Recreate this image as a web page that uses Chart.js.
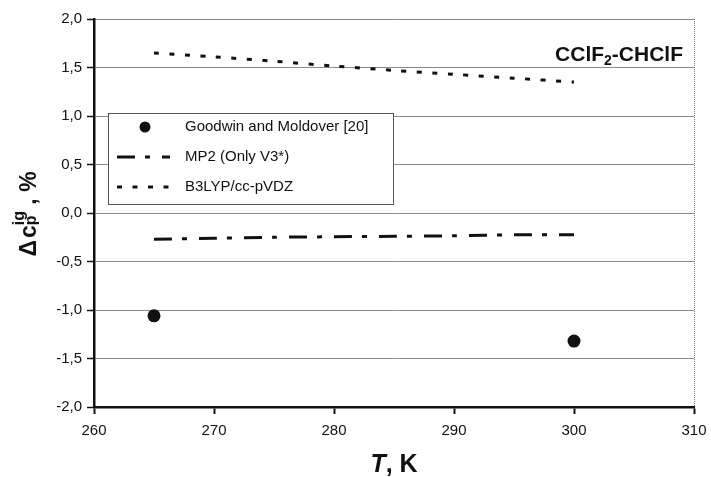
<!DOCTYPE html>
<html>
<head>
<meta charset="utf-8">
<script src="https://cdn.jsdelivr.net/npm/chart.js@4"></script>
<style>
  body { margin: 0; background: #fff; }
  #wrap { width: 711px; height: 477px; }
</style>
</head>
<body>
<div id="wrap"><canvas id="cpChart" width="711" height="477"></canvas></div>
<script>
  // Temperatures (K) and deviations of ideal-gas heat capacity (%)
  const calcTemps = [265, 270, 275, 280, 285, 290, 295, 300];
  const mp2Values = [-0.27, -0.26, -0.25, -0.245, -0.24, -0.235, -0.225, -0.225];
  const b3lypValues = [1.65, 1.61, 1.565, 1.515, 1.47, 1.43, 1.39, 1.35];
  const expTemps = [265, 300];
  const expValues = [-1.06, -1.32];

  const seriesLabels = ['Goodwin and Moldover [20]', 'MP2 (Only V3*)', 'B3LYP/cc-pVDZ'];
  const xTicks = [260, 270, 280, 290, 300, 310];
  const yTicks = [-2, -1.5, -1, -0.5, 0, 0.5, 1, 1.5, 2];

  const FONT = "'Liberation Sans', Arial, sans-serif";

  function toPoints(xs, ys) {
    return xs.map((x, i) => ({ x: x, y: ys[i] }));
  }

  // Titles, the compound name, the right frame edge and the boxed legend
  const decorations = {
    id: 'decorations',
    afterDraw(chart) {
      const ctx = chart.ctx;
      const area = chart.chartArea;
      ctx.save();

      // dotted right frame edge
      ctx.strokeStyle = '#777';
      ctx.lineWidth = 1;
      ctx.setLineDash([1, 1]);
      ctx.beginPath();
      ctx.moveTo(area.right + 0.5, area.top);
      ctx.lineTo(area.right + 0.5, area.bottom);
      ctx.stroke();
      ctx.setLineDash([]);

      ctx.fillStyle = '#111';
      ctx.textBaseline = 'alphabetic';

      // x axis title: T, K
      const big = 'bold 25px ' + FONT;
      ctx.font = 'italic ' + big;
      const wT = ctx.measureText('T').width;
      ctx.font = big;
      const wK = ctx.measureText(', K').width;
      let x0 = (area.left + area.right) / 2 - (wT + wK) / 2;
      ctx.font = 'italic ' + big;
      ctx.fillText('T', x0, 472);
      ctx.font = big;
      ctx.fillText(', K', x0 + wT, 472);

      // y axis title: Δc_p^ig, %
      const main = 'bold 23px ' + FONT;
      const small = 'bold 16px ' + FONT;
      ctx.font = main;
      const wD = ctx.measureText('\u0394').width;
      const wc = ctx.measureText('c').width;
      const wTail = ctx.measureText(' , %').width;
      ctx.font = small;
      const wp = ctx.measureText('p').width;
      const wig = ctx.measureText('ig').width;
      const total = wD + wc + Math.max(wp, wig) + wTail;
      ctx.translate(36, (area.top + area.bottom) / 2 + total / 2 + 2);
      ctx.rotate(-Math.PI / 2);
      let pos = 0;
      ctx.font = main;
      ctx.fillText('\u0394', pos, 0); pos += wD + 2;
      ctx.fillText('c', pos, 0); pos += wc;
      ctx.font = small;
      ctx.fillText('p', pos, 0);
      ctx.fillText('ig', pos, -12);
      pos += Math.max(wp, wig);
      ctx.font = main;
      ctx.fillText(' , %', pos, 0);
      ctx.setTransform(1, 0, 0, 1, 0, 0);

      // compound name, right-aligned in the upper corner
      const nameFont = 'bold 21px ' + FONT;
      const subFont = 'bold 14px ' + FONT;
      ctx.font = nameFont;
      const w1 = ctx.measureText('CClF').width;
      const w3 = ctx.measureText('-CHClF').width;
      ctx.font = subFont;
      const w2 = ctx.measureText('2').width;
      let nx = area.right - 11 - (w1 + w2 + w3);
      const ny = area.top + 42;
      ctx.font = nameFont;
      ctx.fillText('CClF', nx, ny); nx += w1;
      ctx.font = subFont;
      ctx.fillText('2', nx, ny + 4); nx += w2;
      ctx.font = nameFont;
      ctx.fillText('-CHClF', nx, ny);

      // legend box
      const bx = area.left + 14, by = area.top + 94, bw = 285, bh = 91;
      ctx.fillStyle = '#fff';
      ctx.fillRect(bx, by, bw, bh);
      ctx.strokeStyle = '#555';
      ctx.lineWidth = 1;
      ctx.strokeRect(bx + 0.5, by + 0.5, bw, bh);
      ctx.font = '15px ' + FONT;
      ctx.textBaseline = 'middle';
      chart.data.datasets.forEach((ds, i) => {
        const rowY = by + 14 + i * 30;
        if (ds.showLine === false) {
          ctx.fillStyle = ds.pointBackgroundColor;
          ctx.beginPath();
          ctx.arc(bx + 37, rowY, 5.5, 0, Math.PI * 2);
          ctx.fill();
        } else {
          ctx.strokeStyle = ds.borderColor;
          ctx.lineWidth = ds.borderWidth;
          ctx.setLineDash(ds.borderDash);
          ctx.beginPath();
          ctx.moveTo(bx + 9, rowY);
          ctx.lineTo(bx + 62, rowY);
          ctx.stroke();
          ctx.setLineDash([]);
        }
        ctx.fillStyle = '#111';
        ctx.fillText(ds.label, bx + 77, rowY);
      });
      ctx.restore();
    }
  };

  new Chart(document.getElementById('cpChart'), {
    type: 'line',
    data: {
      datasets: [
        {
          label: seriesLabels[0],
          data: toPoints(expTemps, expValues),
          showLine: false,
          pointRadius: 6.5,
          pointBackgroundColor: '#111',
          pointBorderColor: '#111',
          pointBorderWidth: 0
        },
        {
          label: seriesLabels[1],
          data: toPoints(calcTemps, mp2Values),
          borderColor: '#111',
          borderWidth: 3,
          borderDash: [18, 10, 5, 12],
          pointRadius: 0,
          tension: 0.3,
          fill: false
        },
        {
          label: seriesLabels[2],
          data: toPoints(calcTemps, b3lypValues),
          borderColor: '#111',
          borderWidth: 3,
          borderDash: [5, 10.5],
          pointRadius: 0,
          tension: 0.3,
          fill: false
        }
      ]
    },
    options: {
      responsive: false,
      animation: false,
      layout: { padding: { left: 0, right: 17, top: 19, bottom: 0 } },
      plugins: {
        legend: { display: false },
        tooltip: { enabled: false }
      },
      scales: {
        x: {
          type: 'linear',
          min: xTicks[0],
          max: xTicks[xTicks.length - 1],
          afterBuildTicks: (scale) => { scale.ticks = xTicks.map(v => ({ value: v })); },
          afterFit: (scale) => {
            scale.height = 70;
            scale.paddingLeft = 0;
            scale.paddingRight = 0;
          },
          grid: {
            drawOnChartArea: false,
            tickLength: 7,
            tickColor: '#111',
            tickWidth: 2
          },
          border: { color: '#111', width: 2.5 },
          ticks: {
            color: '#111',
            padding: 8,
            maxRotation: 0,
            font: { family: FONT, size: 15 }
          }
        },
        y: {
          min: yTicks[0],
          max: yTicks[yTicks.length - 1],
          afterBuildTicks: (scale) => { scale.ticks = yTicks.map(v => ({ value: v })); },
          afterFit: (scale) => { scale.width = 94; },
          grid: {
            color: '#8c8c8c',
            lineWidth: 1,
            tickLength: 7,
            tickColor: '#111',
            tickWidth: 1.5
          },
          border: { color: '#111', width: 2.5 },
          ticks: {
            color: '#111',
            padding: 5,
            font: { family: FONT, size: 15 },
            callback: (v) => v.toFixed(1).replace('.', ',')
          }
        }
      }
    },
    plugins: [decorations]
  });
</script>
</body>
</html>
